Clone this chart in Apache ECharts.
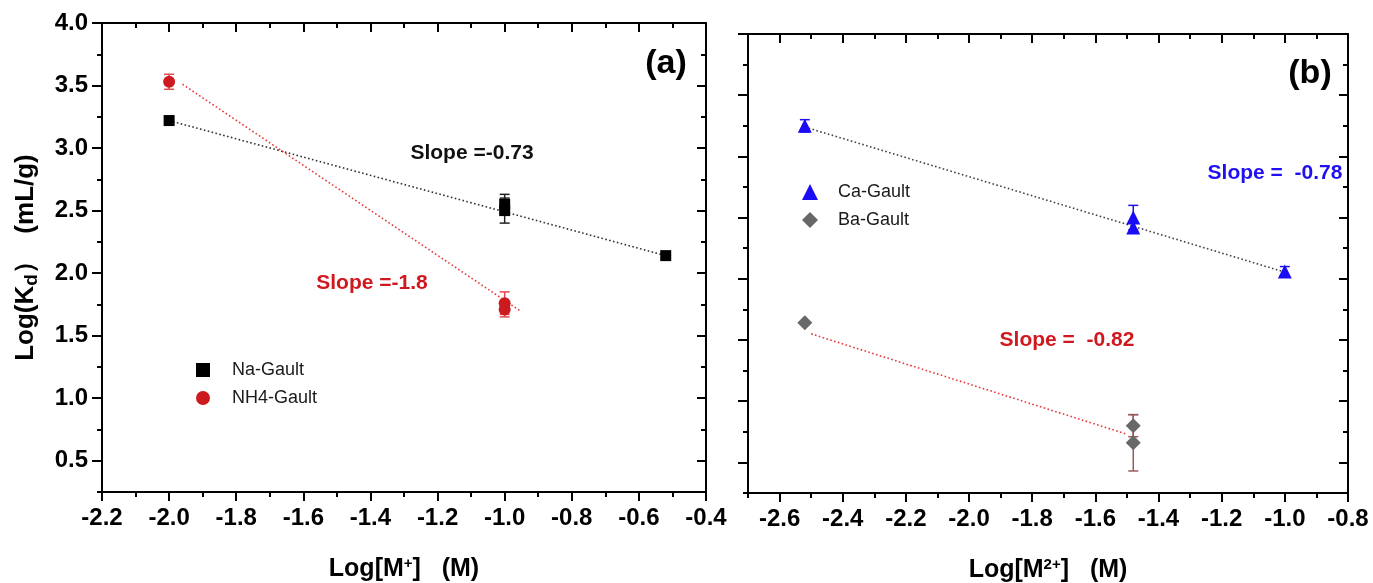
<!DOCTYPE html>
<html>
<head>
<meta charset="utf-8">
<script src="https://cdn.jsdelivr.net/npm/echarts@6/dist/echarts.min.js"></script>
<style>
  html, body { margin: 0; padding: 0; background: #ffffff; }
  #chart { width: 1373px; height: 583px; }
</style>
</head>
<body>
<div id="chart"></div>
<script>
// ---- Panel (a): monovalent cations ----
const xTicksA = [-2.2, -2.0, -1.8, -1.6, -1.4, -1.2, -1.0, -0.8, -0.6, -0.4];
const xMinorA = [-2.1, -1.9, -1.7, -1.5, -1.3, -1.1, -0.9, -0.7, -0.5];

const naX   = [-2.0, -1.0, -1.0, -0.52];
const naY   = [3.22, 2.55, 2.50, 2.14];
const naErr = [0.03, 0.08, 0.10, 0.02];

const nh4X   = [-2.0, -1.0, -1.0];
const nh4Y   = [3.53, 1.76, 1.71];
const nh4Err = [0.06, 0.09, 0.06];

// ---- Panel (b): divalent cations ----
const xTicksB = [-2.6, -2.4, -2.2, -2.0, -1.8, -1.6, -1.4, -1.2, -1.0, -0.8];
const xMinorB = [-2.7, -2.5, -2.3, -2.1, -1.9, -1.7, -1.5, -1.3, -1.1, -0.9];

const caX   = [-2.52, -1.48, -1.48, -1.0];
const caY   = [3.25, 2.50, 2.42, 2.06];
const caErr = [0.05, 0.10, 0.04, 0.04];

const baX   = [-2.52, -1.48, -1.48];
const baY   = [1.64, 0.80, 0.66];
const baErr = [0.00, 0.09, 0.23];

// ---- shared log(Kd) scale ----
const yTicks = [0.5, 1.0, 1.5, 2.0, 2.5, 3.0, 3.5, 4.0];
const yMinor = [0.25, 0.75, 1.25, 1.75, 2.25, 2.75, 3.25, 3.75];

// ---- linear fits: slope, a point the line passes through, x extent ----
const fitSlopes  = { na: -0.73, nh4: -1.8, ca: -0.78, ba: -0.82 };
const fitAnchors = { na: [-2.0, 3.22], nh4: [-1.96, 3.51], ca: [-2.52, 3.24], ba: [-2.0, 1.14] };
const fitRanges  = { na: [-2.0, -0.52], nh4: [-1.96, -0.95], ca: [-2.52, -1.0], ba: [-2.50, -1.50] };

const RED = '#d0191f';
const BLUE = '#2010f0';
const FONT = '"Liberation Sans", Arial, sans-serif';

function pairs(xs, ys) { return xs.map((x, i) => [x, ys[i]]); }
function triples(xs, ys, es) { return xs.map((x, i) => [x, ys[i], es[i]]); }
function fitLine(key) {
  const s = fitSlopes[key], a = fitAnchors[key];
  return fitRanges[key].map(x => [x, a[1] + s * (x - a[0])]);
}

const tickStyle = { color: '#000', width: 2 };
const lineStyleAxis = { color: '#000', width: 2 };

function xAxesFor(grid, min, max, major, minor, name) {
  return [
    { gridIndex: grid, type: 'value', position: 'bottom', min, max,
      axisLine: { show: true, onZero: false, lineStyle: lineStyleAxis },
      axisTick: { show: true, inside: false, length: 9, customValues: major, lineStyle: tickStyle },
      axisLabel: { show: true, customValues: major, margin: 14, color: '#000',
                   fontFamily: FONT, fontWeight: 'bold', fontSize: 24,
                   formatter: v => v.toFixed(1) },
      splitLine: { show: false },
      name: name, nameLocation: 'middle', nameGap: 64,
      nameTextStyle: {
        fontFamily: FONT, fontWeight: 'bold', fontSize: 25, color: '#000',
        rich: {
          t: { fontFamily: FONT, fontWeight: 'bold', fontSize: 25, color: '#000' },
          sup: { fontFamily: FONT, fontWeight: 'bold', fontSize: 15, color: '#000', verticalAlign: 'top', padding: [0, 0, 12, 0] }
        }
      } },
    { gridIndex: grid, type: 'value', position: 'bottom', min, max,
      axisLine: { show: false, onZero: false },
      axisTick: { show: true, inside: false, length: 5, customValues: minor, lineStyle: tickStyle },
      axisLabel: { show: false }, splitLine: { show: false } },
    { gridIndex: grid, type: 'value', position: 'top', min, max,
      axisLine: { show: true, onZero: false, lineStyle: lineStyleAxis },
      axisTick: { show: true, inside: true, length: 9, customValues: major, lineStyle: tickStyle },
      axisLabel: { show: false }, splitLine: { show: false } },
    { gridIndex: grid, type: 'value', position: 'top', min, max,
      axisLine: { show: false, onZero: false },
      axisTick: { show: true, inside: true, length: 5, customValues: minor, lineStyle: tickStyle },
      axisLabel: { show: false }, splitLine: { show: false } }
  ];
}

function yAxesFor(grid, showLabels, name) {
  const main = { gridIndex: grid, type: 'value', position: 'left', min: 0.25, max: 4.0,
    axisLine: { show: true, onZero: false, lineStyle: lineStyleAxis },
    axisTick: { show: true, inside: false, length: 10, customValues: yTicks, lineStyle: tickStyle },
    axisLabel: { show: showLabels, customValues: yTicks, margin: 14, color: '#000',
                 fontFamily: FONT, fontWeight: 'bold', fontSize: 24,
                 formatter: v => v.toFixed(1) },
    splitLine: { show: false } };
  if (name) {
    main.name = name;
    main.nameLocation = 'middle';
    main.nameGap = 61;
    main.nameRotate = 90;
    main.nameTextStyle = {
      fontFamily: FONT, fontWeight: 'bold', fontSize: 26, color: '#000',
      rich: {
        t: { fontFamily: FONT, fontWeight: 'bold', fontSize: 26, color: '#000' },
        sub: { fontFamily: FONT, fontWeight: 'bold', fontSize: 19, color: '#000', verticalAlign: 'bottom', padding: [12, 0, 0, 0] }
      }
    };
  }
  return [
    main,
    { gridIndex: grid, type: 'value', position: 'left', min: 0.25, max: 4.0,
      axisLine: { show: false, onZero: false },
      axisTick: { show: true, inside: false, length: 5, customValues: yMinor, lineStyle: tickStyle },
      axisLabel: { show: false }, splitLine: { show: false } },
    { gridIndex: grid, type: 'value', position: 'right', min: 0.25, max: 4.0,
      axisLine: { show: true, onZero: false, lineStyle: lineStyleAxis },
      axisTick: { show: true, inside: true, length: 9, customValues: yTicks, lineStyle: tickStyle },
      axisLabel: { show: false }, splitLine: { show: false } },
    { gridIndex: grid, type: 'value', position: 'right', min: 0.25, max: 4.0,
      axisLine: { show: false, onZero: false },
      axisTick: { show: true, inside: true, length: 5, customValues: yMinor, lineStyle: tickStyle },
      axisLabel: { show: false }, splitLine: { show: false } }
  ];
}

// vertical error bars with caps
function errorBars(name, axisIdx, data, color) {
  return {
    type: 'custom', name: name + ' err', xAxisIndex: axisIdx, yAxisIndex: axisIdx,
    data: data, silent: true, z: 3,
    renderItem: (params, api) => {
      const x = api.value(0), y = api.value(1), e = api.value(2);
      if (!e) return null;
      const hi = api.coord([x, y + e]);
      const lo = api.coord([x, y - e]);
      const w = 5;
      const st = { stroke: color, lineWidth: 1.5 };
      return { type: 'group', children: [
        { type: 'line', shape: { x1: hi[0], y1: hi[1], x2: lo[0], y2: lo[1] }, style: st },
        { type: 'line', shape: { x1: hi[0] - w, y1: hi[1], x2: hi[0] + w, y2: hi[1] }, style: st },
        { type: 'line', shape: { x1: lo[0] - w, y1: lo[1], x2: lo[0] + w, y2: lo[1] }, style: st }
      ] };
    }
  };
}

function fitSeries(name, axisIdx, key, color) {
  return { type: 'line', name: name, xAxisIndex: axisIdx, yAxisIndex: axisIdx,
    data: fitLine(key), symbol: 'none', silent: true, z: 2,
    lineStyle: { color: color, width: 1.6, type: [1.6, 2.4] } };
}

function markers(name, axisIdx, data, symbol, size, color) {
  return { type: 'scatter', name: name, xAxisIndex: axisIdx, yAxisIndex: axisIdx,
    data: data, symbol: symbol, symbolSize: size, z: 4,
    itemStyle: { color: color, opacity: 1 } };
}

const chart = echarts.init(document.getElementById('chart'), null, { renderer: 'canvas' });

const labelFont = size => 'bold ' + size + 'px ' + FONT;

chart.setOption({
  backgroundColor: '#ffffff',
  animation: false,
  grid: [
    { left: 102, right: 667, top: 23, bottom: 91, outerBoundsMode: 'none', containLabel: false },
    { left: 748, right: 25, top: 34, bottom: 90, outerBoundsMode: 'none', containLabel: false }
  ],
  xAxis: [
    ...xAxesFor(0, -2.2, -0.4, xTicksA, xMinorA, '{t|Log[M}{sup|+}{t|]   (M)}'),
    ...xAxesFor(1, -2.7, -0.8, xTicksB, xMinorB, '{t|Log[M}{sup|2+}{t|]   (M)}')
  ],
  yAxis: [
    ...yAxesFor(0, true, '{t|Log(K}{sub|d}{t|）  (mL/g)}'),
    ...yAxesFor(1, false, null)
  ],
  legend: [
    { data: ['Na-Gault', 'NH4-Gault'], orient: 'vertical', left: 191, top: 356,
      itemWidth: 14, itemHeight: 14, itemGap: 10, selectedMode: false,
      textStyle: { fontFamily: FONT, fontSize: 18, color: '#1a1a1a', padding: [0, 0, 0, 17] } },
    { data: ['Ca-Gault', 'Ba-Gault'], orient: 'vertical', left: 797, top: 178,
      itemWidth: 16, itemHeight: 16, itemGap: 10, selectedMode: false,
      textStyle: { fontFamily: FONT, fontSize: 18, color: '#1a1a1a', padding: [0, 0, 0, 15] } }
  ],
  series: [
    fitSeries('Na fit', 0, 'na', '#333333'),
    fitSeries('NH4 fit', 0, 'nh4', '#e8383a'),
    errorBars('Na-Gault', 0, triples(naX, naY, naErr), '#222222'),
    errorBars('NH4-Gault', 0, triples(nh4X, nh4Y, nh4Err), '#e04a4f'),
    markers('Na-Gault', 0, pairs(naX, naY), 'rect', 11, '#000000'),
    markers('NH4-Gault', 0, pairs(nh4X, nh4Y), 'circle', 12, '#cc1a1f'),

    fitSeries('Ca fit', 4, 'ca', '#444444'),
    fitSeries('Ba fit', 4, 'ba', '#e8383a'),
    errorBars('Ca-Gault', 4, triples(caX, caY, caErr), BLUE),
    errorBars('Ba-Gault', 4, triples(baX, baY, baErr), '#9a5a5a'),
    markers('Ca-Gault', 4, pairs(caX, caY), 'triangle', 14, '#1a0cf5'),
    markers('Ba-Gault', 4, pairs(baX, baY), 'diamond', 15, '#686868')
  ],
  graphic: [
    { type: 'text', style: { text: '(a)', x: 666, y: 64, align: 'center', verticalAlign: 'middle', font: labelFont(34), fill: '#000' } },
    { type: 'text', style: { text: 'Slope =-0.73', x: 472, y: 153, align: 'center', verticalAlign: 'middle', font: labelFont(21), fill: '#111' } },
    { type: 'text', style: { text: 'Slope =-1.8', x: 372, y: 283, align: 'center', verticalAlign: 'middle', font: labelFont(21), fill: RED } },
    { type: 'text', style: { text: '(b)', x: 1310, y: 74, align: 'center', verticalAlign: 'middle', font: labelFont(34), fill: '#000' } },
    { type: 'text', style: { text: 'Slope =  -0.78', x: 1275, y: 173, align: 'center', verticalAlign: 'middle', font: labelFont(21), fill: BLUE } },
    { type: 'text', style: { text: 'Slope =  -0.82', x: 1067, y: 340, align: 'center', verticalAlign: 'middle', font: labelFont(21), fill: RED } }
  ]
});
</script>
</body>
</html>
